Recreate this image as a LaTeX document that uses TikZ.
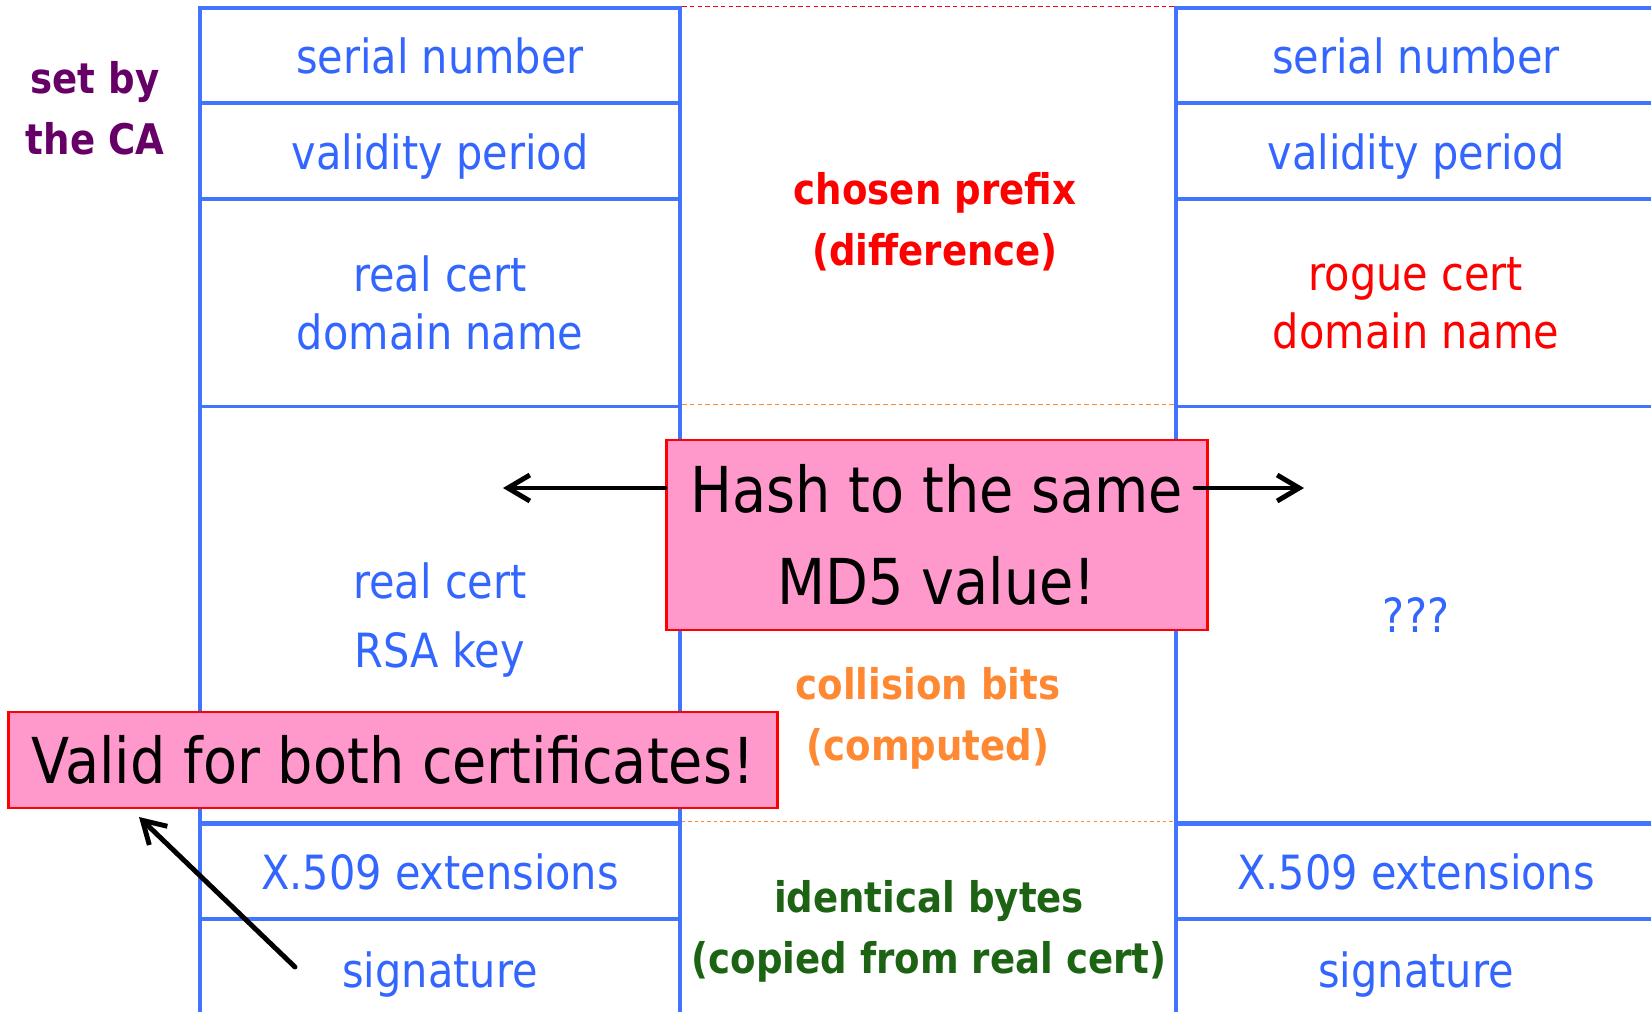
\documentclass[tikz,border=0pt]{standalone}
\usepackage{fontspec}
\setmainfont[FakeStretch=0.88]{DejaVu Sans}
\usepackage{tikz}
\usetikzlibrary{arrows.meta, positioning}
\definecolor{certblue}{RGB}{51,102,255}
\definecolor{lineblue}{RGB}{66,117,255}
\definecolor{capurple}{RGB}{102,0,102}
\definecolor{roguered}{RGB}{255,0,0}
\definecolor{collorange}{RGB}{255,136,51}
\definecolor{copygreen}{RGB}{28,100,20}
\definecolor{notepink}{RGB}{255,153,204}
\tikzset{
    % certificate fields
    cell/.style={rectangle, draw=lineblue, line width=1.1pt, inner sep=0pt,
                minimum width=4.8cm, align=center, text=certblue, text depth=0pt,
                font=\fontsize{13.4}{16.5}\selectfont},
    % middle column labels
    midlbl/.style={align=center, font=\fontsize{12}{17.4}\selectfont\bfseries},
    gapline/.style={line width=0.35pt, dash pattern=on 1.3pt off 0.9pt},
    % call-outs
    notebox/.style={rectangle, draw=roguered, fill=notepink, line width=0.8pt,
                align=center, font=\fontsize{18}{26.3}\selectfont},
    harrow/.style={-{Straight Barb[length=2.2mm, width=2.6mm]}, line width=1.4pt,
                line cap=round, black},
}
\begin{document}
\begin{tikzpicture}[x=0.01cm, y=-0.01cm]
\useasboundingbox (0,0) rectangle (1651,1011);

\node[midlbl, text=capurple] (setby) at (95,108) {set by\\the CA};

% real certificate
\node[cell, minimum height=0.948cm] (lserial) at (440,55.8)  {serial number};
\node[cell, minimum height=0.958cm] (lvalid)  at (440,151.1) {validity period};
\node[cell, minimum height=2.075cm] (ldomain) at (440,302.7) {real cert\\domain name};
\node[cell, minimum height=4.169cm, font=\fontsize{13.4}{19.4}\selectfont]
                                    (lkey)    at (440,615)   {real cert\\RSA key};
\node[cell, minimum height=0.959cm] (lext)    at (440,871.3) {X.509 extensions};
\node[cell, minimum height=0.997cm] (lsig)    at (440,969.1) {signature};

% rogue certificate
\node[cell, minimum height=0.948cm] (rserial) at (1416,55.8)  {serial number};
\node[cell, minimum height=0.958cm] (rvalid)  at (1416,151.1) {validity period};
\node[cell, minimum height=2.075cm, text=roguered]
                                    (rdomain) at (1416,302.7) {rogue cert\\domain name};
\node[cell, minimum height=4.169cm] (rkey)    at (1416,615)   {???};
\node[cell, minimum height=0.959cm] (rext)    at (1416,871.3) {X.509 extensions};
\node[cell, minimum height=0.997cm] (rsig)    at (1416,969.1) {signature};

\draw[gapline, roguered]   (lserial.north east) -- (rserial.north west);
\draw[gapline, collorange] (lkey.north east) -- (rkey.north west);
\draw[gapline, collorange, dash pattern=on 0.9pt off 0.9pt] (lext.north east) -- (rext.north west);

\node[midlbl, text=roguered]   (prefix)  at (935,222) {chosen prefix\\(difference)};
\node[midlbl, text=collorange] (collide) at (928,718) {collision bits\\(computed)};
\node[midlbl, text=copygreen]  (same)    at (929,931) {identical bytes\\(copied from real cert)};

\node[notebox, minimum width=5.41cm, minimum height=1.9cm] (hash) at (937,535)
    {Hash to the same\\MD5 value!};
\coordinate (hl) at (503,488);
\coordinate (hr) at (1304,488);
\draw[harrow] (hash.west |- hl) -- (hl);
\draw[harrow, shorten <=-4pt] (hash.east |- hr) -- (hr);

\node[notebox, minimum width=7.69cm, minimum height=0.96cm] (valid) at (393,760)
    {Valid for both certificates!};
\coordinate (sigtail) at (295,967);
\coordinate (validtip) at (139,817);
\draw[harrow] (sigtail) -- (validtip);
\end{tikzpicture}
\end{document}
